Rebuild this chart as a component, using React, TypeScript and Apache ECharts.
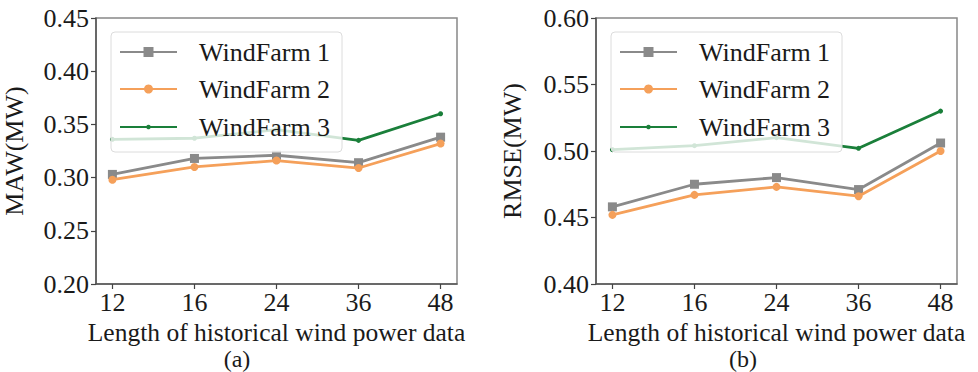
import React, { useEffect, useRef } from "react";
import * as echarts from "echarts";

const categories = ["12", "16", "24", "36", "48"];
const seriesNames = ["WindFarm 1", "WindFarm 2", "WindFarm 3"];

const mawWF1 = [0.303, 0.318, 0.321, 0.314, 0.338];
const mawWF2 = [0.298, 0.310, 0.316, 0.309, 0.332];
const mawWF3 = [0.336, 0.337, 0.345, 0.335, 0.360];

const rmseWF1 = [0.458, 0.475, 0.480, 0.471, 0.506];
const rmseWF2 = [0.452, 0.467, 0.473, 0.466, 0.500];
const rmseWF3 = [0.501, 0.504, 0.510, 0.502, 0.530];

const FONT = "'Liberation Serif', 'Times New Roman', serif";
const TXT = "#1a1a1a";
const colors = ["#8a8a8a", "#f5a05a", "#1a7f3a"];
const symbols = ["rect", "circle", "circle"];
const symbolSizes = [9, 8, 5];
const legendSymbolSizes = [10, 9, 4.5];

export default function App() {
  const ref = useRef<HTMLDivElement>(null);
  useEffect(() => {
    if (!ref.current) return;
    const chart = echarts.init(ref.current, undefined, { renderer: "svg" });

    const toPts = (arr: number[]) => arr.map((v, i) => [i, v]);

    const grids = [
      { left: 96, top: 18, width: 361, height: 266 },
      { left: 596, top: 18, width: 361, height: 266 },
    ];

    const xAxis = [0, 1].map((g) => ({
      type: "value",
      gridIndex: g,
      min: -0.2,
      max: 4.2,
      name: "Length of historical wind power data",
      nameLocation: "middle",
      nameGap: 32,
      nameTextStyle: { fontFamily: FONT, fontSize: 25.5, color: TXT },
      axisLine: { show: true, onZero: false, lineStyle: { color: "#555", width: 1.5 } },
      axisTick: {
        show: true,
        length: 5,
        customValues: [0, 1, 2, 3, 4],
        lineStyle: { color: "#444", width: 1.2 },
      },
      axisLabel: {
        customValues: [0, 1, 2, 3, 4],
        formatter: (v: number) => categories[Math.round(v)] ?? "",
        fontFamily: FONT,
        fontSize: 26,
        color: TXT,
        margin: 5,
      },
      splitLine: { show: false },
    }));

    const yBase = (g: number, min: number, max: number, name: string, gap: number) => ({
      type: "value",
      gridIndex: g,
      min,
      max,
      interval: 0.05,
      name,
      nameLocation: "middle",
      nameRotate: 90,
      nameGap: gap,
      nameTextStyle: { fontFamily: FONT, fontSize: 26, color: TXT },
      axisLine: { show: true, onZero: false, lineStyle: { color: "#555", width: 1.5 } },
      axisTick: { show: true, length: 5, lineStyle: { color: "#444", width: 1.2 } },
      axisLabel: {
        formatter: (v: number) => v.toFixed(2),
        fontFamily: FONT,
        fontSize: 26,
        color: TXT,
        margin: 7,
      },
      splitLine: { show: false },
    });

    const yAxis = [
      yBase(0, 0.2, 0.45, "MAW(MW)", 69),
      yBase(1, 0.4, 0.6, "RMSE(MW)", 71),
    ];

    const data = [
      [mawWF1, mawWF2, mawWF3],
      [rmseWF1, rmseWF2, rmseWF3],
    ];

    const series: any[] = [];
    [0, 1].forEach((g) => {
      data[g].forEach((arr, k) => {
        series.push({
          type: "line",
          name: seriesNames[k],
          xAxisIndex: g,
          yAxisIndex: g,
          data: toPts(arr),
          symbol: symbols[k],
          symbolSize: symbolSizes[k],
          showSymbol: true,
          lineStyle: { color: colors[k], width: 2.8 },
          itemStyle: { color: colors[k] },
          z: 2 + k * 0.1,
        });
      });
    });

    const legendCenters = [52, 89, 127];
    const legendLefts = [119, 619];
    const legends: any[] = [];
    legendLefts.forEach((lx) => {
      seriesNames.forEach((nm, k) => {
        legends.push({
          orient: "vertical",
          left: lx,
          top: legendCenters[k] - 14,
          itemWidth: 57,
          itemHeight: legendSymbolSizes[k] / 0.8,
          padding: 0,
          data: [nm],
          selectedMode: false,
          textStyle: {
            fontFamily: FONT,
            fontSize: 26,
            color: TXT,
            lineHeight: 28,
            padding: [0, 0, 0, 17],
          },
          z: 10,
        });
      });
    });

    const box = (x: number) => ({
      type: "rect",
      z: 5,
      shape: { x, y: 32, width: 231, height: 120, r: 4 },
      style: { fill: "rgba(255,255,255,0.8)", stroke: "#dcdcdc", lineWidth: 1 },
    });

    const label = (text: string, x: number) => ({
      type: "text",
      x,
      y: 359,
      style: {
        text,
        fontFamily: FONT,
        fontSize: 24,
        fill: TXT,
        textAlign: "center",
        textVerticalAlign: "middle",
      },
    });

    chart.setOption({
      animation: false,
      backgroundColor: "#ffffff",
      grid: grids.map((g) => ({
        ...g,
        show: true,
        borderColor: "#888",
        borderWidth: 1.5,
        backgroundColor: "transparent",
      })),
      xAxis,
      yAxis,
      legend: legends,
      series,
      graphic: [box(111), box(611), label("(a)", 237), label("(b)", 743)],
    });

    return () => chart.dispose();
  }, []);

  return (
    <div
      ref={ref}
      style={{ position: "fixed", left: 0, top: 0, width: 978, height: 372 }}
    />
  );
}
